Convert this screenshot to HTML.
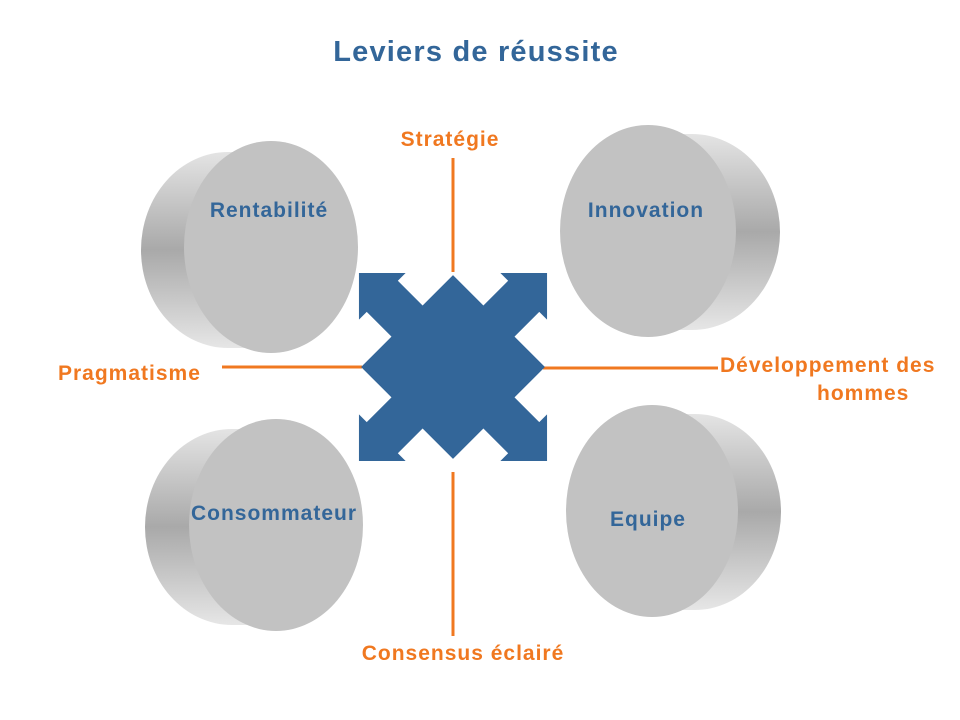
<!DOCTYPE html>
<html><head><meta charset="utf-8"><style>
html,body{margin:0;padding:0;background:#fff;}
svg{display:block;}
text{font-family:"Liberation Sans",Arial,sans-serif;font-weight:bold;}
</style></head><body>
<svg width="960" height="720" viewBox="0 0 960 720" xmlns="http://www.w3.org/2000/svg">
<defs>
<linearGradient id="side" x1="0" y1="0" x2="0" y2="1">
<stop offset="0" stop-color="#e4e4e4"/>
<stop offset="0.5" stop-color="#a9a9a9"/>
<stop offset="1" stop-color="#e6e6e6"/>
</linearGradient>
</defs>
<rect width="960" height="720" fill="#fff"/>
<text x="476" y="61" font-size="29" letter-spacing="1.2" fill="#336699" text-anchor="middle">Leviers de réussite</text>

<g stroke="#F07820" stroke-width="3">
<line x1="453" y1="158" x2="453" y2="272"/>
<line x1="453" y1="472" x2="453" y2="636"/>
<line x1="222" y1="367" x2="362" y2="367"/>
<line x1="543" y1="368" x2="718" y2="368"/>
</g>

<g>
<ellipse cx="228" cy="250" rx="87" ry="98" fill="url(#side)"/>
<rect x="228" y="152" width="42" height="196" fill="url(#side)"/>
<ellipse cx="271" cy="247" rx="87" ry="106" fill="#c2c2c2"/>
</g>
<g>
<ellipse cx="692" cy="232" rx="88" ry="98" fill="url(#side)"/>
<rect x="648" y="134" width="44" height="196" fill="url(#side)"/>
<ellipse cx="648" cy="231" rx="88" ry="106" fill="#c2c2c2"/>
</g>
<g>
<ellipse cx="232" cy="527" rx="87" ry="98" fill="url(#side)"/>
<rect x="232" y="429" width="44" height="196" fill="url(#side)"/>
<ellipse cx="276" cy="525" rx="87" ry="106" fill="#c2c2c2"/>
</g>
<g>
<ellipse cx="695" cy="512" rx="86" ry="98" fill="url(#side)"/>
<rect x="652" y="414" width="43" height="196" fill="url(#side)"/>
<ellipse cx="652" cy="511" rx="86" ry="106" fill="#c2c2c2"/>
</g>

<polygon transform="translate(453,367) rotate(45)" fill="#336699" points="-65,-65 -22,-65 -22,-100 -33,-100 0,-133 33,-100 22,-100 22,-65 65,-65 65,-22 100,-22 100,-33 133,0 100,33 100,22 65,22 65,65 22,65 22,100 33,100 0,133 -33,100 -22,100 -22,65 -65,65 -65,22 -100,22 -100,33 -133,0 -100,-33 -100,-22 -65,-22"/>

<g font-size="21" letter-spacing="1" fill="#336699" text-anchor="middle">
<text x="269" y="217">Rentabilité</text>
<text x="646" y="217">Innovation</text>
<text x="274" y="520">Consommateur</text>
<text x="648" y="526">Equipe</text>
</g>
<g font-size="21" letter-spacing="1" fill="#F07820">
<text x="450" y="146" text-anchor="middle">Stratégie</text>
<text x="58" y="380">Pragmatisme</text>
<text x="720" y="372">Développement des</text>
<text x="817" y="400">hommes</text>
<text x="463" y="660" text-anchor="middle">Consensus éclairé</text>
</g>
</svg>
</body></html>
